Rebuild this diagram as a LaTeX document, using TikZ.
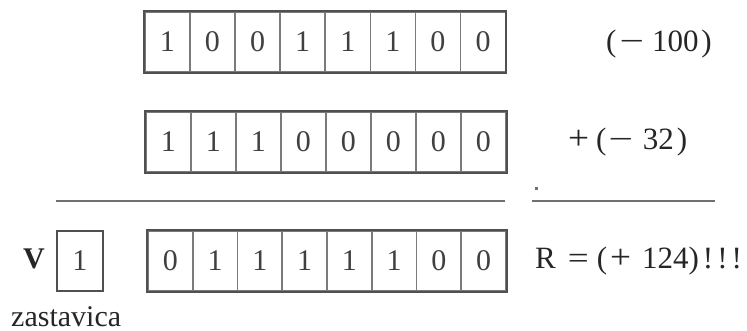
\documentclass[tikz,border=0pt]{standalone}
\usepackage{fontspec}
\usepackage{graphicx}
\setmainfont{Liberation Serif}
\definecolor{boxline}{HTML}{505050}
\definecolor{divline}{HTML}{7A7A7A}
\definecolor{ruleline}{HTML}{707070}
\definecolor{digit}{HTML}{404040}
\newcommand{\wminus}{\scalebox{1.4}[1]{−}}
\newcommand{\wplus}{\scalebox{1.2}[1.1]{+}}
\newcommand{\weq}{\scalebox{1.2}[1]{=}}
\begin{document}
\begin{tikzpicture}[x=1pt,y=-1pt,
  cell/.style={draw=divline,line width=1.6pt,minimum width=45.1pt,minimum height=60pt,inner sep=0pt,anchor=north west,font=\fontsize{30}{32}\selectfont,text=digit},
  frame/.style={draw=boxline,line width=2pt},
  label/.style={font=\fontsize{31}{34}\selectfont,text=black!85,inner sep=0pt},
  rulestyle/.style={draw=ruleline,line width=2.6pt}]
\useasboundingbox (0,0) rectangle (747,331);
\fill[white] (0,0) rectangle (747,331);
% row 1
\foreach \b [count=\i from 0] in {1,0,0,1,1,1,0,0}
  \node[cell] (a\i) at (144+45.1*\i,11) {\b};
\draw[frame] (a0.north west) rectangle (a7.south east);
% row 2
\foreach \b [count=\i from 0] in {1,1,1,0,0,0,0,0}
  \node[cell] (b\i) at (145+45*\i,111) {\b};
\draw[frame] (b0.north west) rectangle (b7.south east);
% row 3
\foreach \b [count=\i from 0] in {0,1,1,1,1,1,0,0}
  \node[cell] (c\i) at (147+44.75*\i,230) {\b};
\draw[frame] (c0.north west) rectangle (c7.south east);
% flag
\node[cell,draw=boxline,minimum width=46pt] (v) at (56,230) {1};
\node[label,font=\fontsize{30}{32}\selectfont\bfseries] (vl) at (34,259) {V};
\node[label,anchor=base west,font=\fontsize{30}{32}\selectfont] (zas) at (11,326) {zastavica};
% labels
\node[label,anchor=west] (l1) at (606,44) {(\hspace{3pt}\wminus\hspace{8pt}100\hspace{3pt})};
\node[label,anchor=west] (l2) at (568,142) {\wplus\hspace{7pt}(\hspace{2pt}\wminus\hspace{10pt}32\hspace{3pt})};
\node[label,anchor=west] (l3) at (535,261) {R\hspace{12pt}\weq\hspace{8pt}(\hspace{3pt}\wplus\hspace{11pt}124)\hspace{4pt}!\hspace{4pt}!\hspace{4pt}!};
% rules
\coordinate (r1a) at (56,201);
\coordinate (r1b) at (505,201);
\coordinate (r2a) at (532,201);
\coordinate (r2b) at (715,201);
\draw[rulestyle] (r1a) -- (r1b);
\draw[rulestyle] (r2a) -- (r2b);
\node[fill=ruleline,inner sep=0pt,minimum size=3pt] (dot) at (536,189) {};
\end{tikzpicture}
\end{document}
